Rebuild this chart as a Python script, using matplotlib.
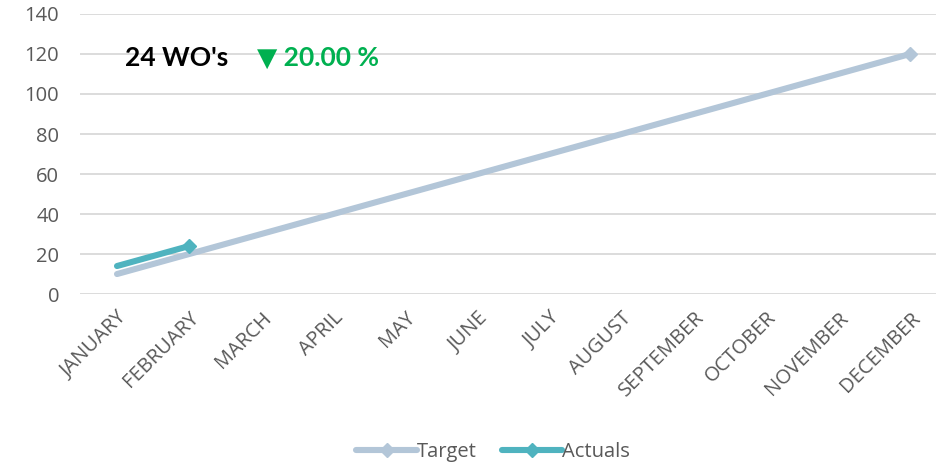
import numpy as np
import matplotlib
matplotlib.use("Agg")
import matplotlib.pyplot as plt
from matplotlib.legend_handler import HandlerLine2D

months = ['JANUARY', 'FEBRUARY', 'MARCH', 'APRIL', 'MAY', 'JUNE', 'JULY',
          'AUGUST', 'SEPTEMBER', 'OCTOBER', 'NOVEMBER', 'DECEMBER']
target = [10, 20, 30, 40, 50, 60, 70, 80, 90, 100, 110, 120]
actuals = [14, 24]
yticks = [0, 20, 40, 60, 80, 100, 120, 140]
wo_label = "24 WO's"
pct_label = "\u25BC 20.00 %"

plt.rcParams['font.family'] = ['Open Sans', 'DejaVu Sans']

target_color = '#B3C6D8'
actual_color = '#4FB3BF'
grey = '#595959'


class EndMarkerHandler(HandlerLine2D):
    # put the marker at the right end of the legend line, like Excel
    def get_xdata(self, legend, xdescent, ydescent, width, height, fontsize):
        xdata = np.array([-xdescent, -xdescent + width])
        return xdata, xdata[-1:] - 4


fig = plt.figure(figsize=(9.36, 4.66), dpi=100)
ax = fig.add_axes([0.0855, 0.369, 0.9145, 0.601])

x = np.arange(len(months))
l1, = ax.plot(x, target, color=target_color, lw=4.4, marker='D', ms=7.5,
              markevery=[len(target) - 1], solid_capstyle='round', label='Target', zorder=3)
l2, = ax.plot(x[:len(actuals)], actuals, color=actual_color, lw=4.4, marker='D', ms=7.5,
              markevery=[len(actuals) - 1], solid_capstyle='round', label='Actuals', zorder=4)

ax.set_xlim(-0.513, 11.36)
ax.set_ylim(0, 140)
ax.set_yticks(yticks)
ax.set_xticks(x)
ax.set_xticklabels(months, rotation=45, ha='right', va='top', rotation_mode='anchor')
ax.tick_params(axis='x', length=0, pad=10, labelsize=14.5, labelcolor=grey)
ax.tick_params(axis='y', length=0, pad=15, labelsize=14.5, labelcolor=grey)
ax.grid(axis='y', color='#D9D9D9', lw=1.3)
ax.set_axisbelow(True)
for s in ax.spines.values():
    s.set_visible(False)

ax.text(0.11, 118, wo_label, fontsize=19, fontweight='bold', color='black',
        va='center', family=['Lato', 'DejaVu Sans'])
ax.text(1.94, 118, pct_label, fontsize=19, fontweight='bold', color='#00B050',
        va='center', family=['Lato', 'DejaVu Sans'])

fig.legend(handles=[l1, l2], loc='center', bbox_to_anchor=(0.527, 0.03), ncol=2,
           frameon=False, fontsize=14.5, handlelength=3.0, handletextpad=0.0,
           columnspacing=1.25, labelcolor=grey,
           handler_map={l1: EndMarkerHandler(), l2: EndMarkerHandler()})

fig.savefig('out.png', dpi=100)
